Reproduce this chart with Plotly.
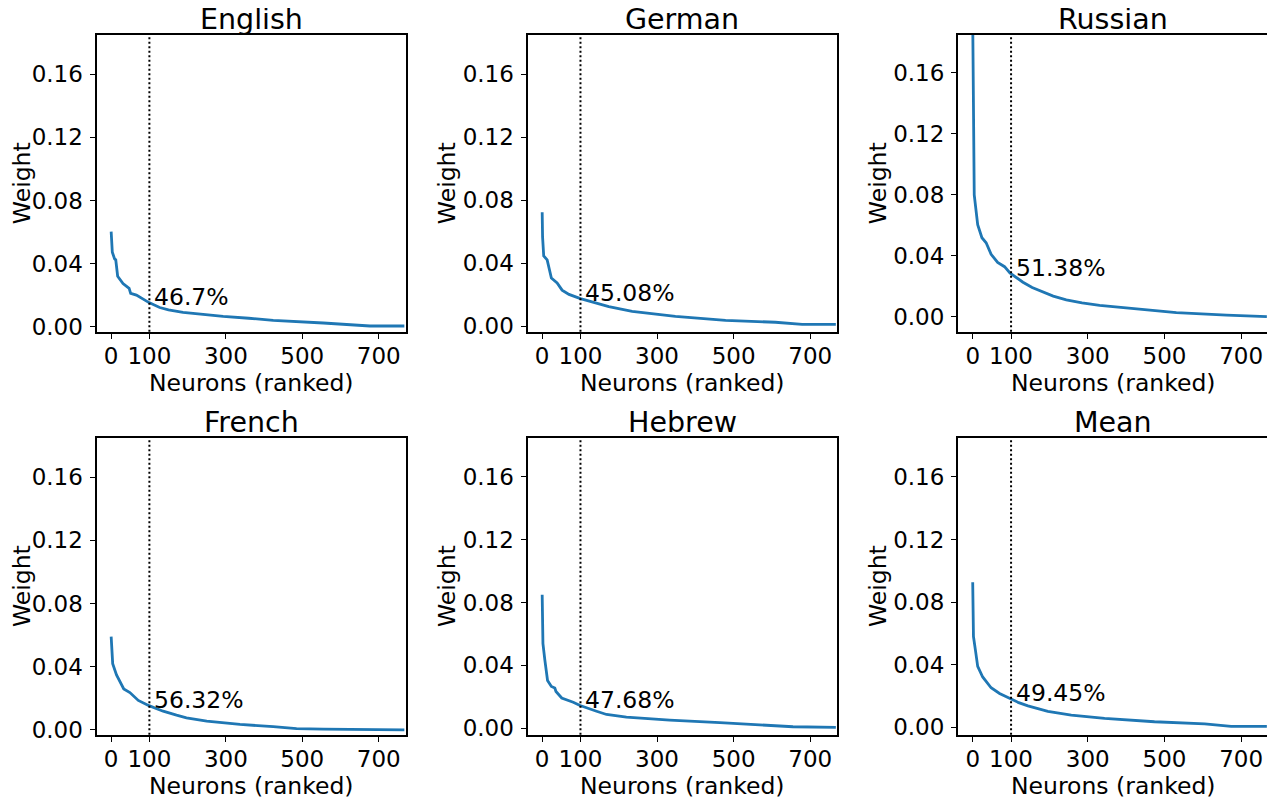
import numpy as np
import plotly.graph_objects as go

languages = ["English", "German", "Russian", "French", "Hebrew", "Mean"]
percent_labels = ["46.7%", "45.08%", "51.38%", "56.32%", "47.68%", "49.45%"]

english_x = [0, 1, 3, 9, 12, 17, 31, 47, 51, 66, 99, 127, 150, 188, 240, 293, 360, 424, 555, 677, 767]
english_w = [0.0604, 0.0567, 0.0473, 0.0431, 0.0425, 0.0321, 0.0275, 0.0244, 0.0213, 0.0202,
             0.0154, 0.0123, 0.0108, 0.0092, 0.0079, 0.0067, 0.0055, 0.0042, 0.0025, 0.0006, 0.0006]

german_x = [0, 1, 4, 13, 24, 39, 52, 70, 100, 135, 174, 235, 290, 348, 479, 609, 679, 767]
german_w = [0.0722, 0.0566, 0.0445, 0.0420, 0.0305, 0.0274, 0.0228, 0.0201, 0.0174, 0.0148,
            0.0124, 0.0093, 0.0076, 0.0061, 0.0036, 0.0024, 0.0010, 0.0010]

russian_x = [0, 1, 2, 3, 4, 13, 24, 35, 48, 65, 83, 97, 131, 155, 183, 210, 244, 285, 331, 418, 531, 662, 767]
russian_w = [0.195, 0.150, 0.120, 0.0973, 0.0800, 0.0605, 0.0519, 0.0486, 0.0410, 0.0357,
             0.0329, 0.0288, 0.0227, 0.0192, 0.0162, 0.0136, 0.0112, 0.0092, 0.0076, 0.0054,
             0.0028, 0.0011, 0.0002]

french_x = [0, 1, 4, 14, 23, 33, 49, 71, 99, 136, 171, 197, 250, 337, 424, 485, 555, 767]
french_w = [0.0591, 0.0546, 0.0420, 0.0348, 0.0306, 0.0260, 0.0237, 0.0187, 0.0154, 0.0119,
            0.0094, 0.0077, 0.0056, 0.0035, 0.0021, 0.0009, 0.0005, 0.0001]

hebrew_x = [0, 1, 2, 7, 14, 24, 33, 36, 51, 81, 99, 142, 168, 220, 275, 333, 464, 595, 655, 767]
hebrew_w = [0.0849, 0.0664, 0.0538, 0.0433, 0.0303, 0.0265, 0.0255, 0.0233, 0.0191, 0.0164,
            0.0143, 0.0107, 0.0086, 0.0069, 0.0059, 0.0050, 0.0034, 0.0019, 0.0008, 0.0004]

mean_x = [0, 1, 2, 7, 13, 26, 48, 70, 99, 120, 144, 170, 196, 257, 344, 474, 605, 674, 767]
mean_w = [0.0927, 0.0748, 0.0580, 0.0495, 0.0390, 0.0322, 0.0253, 0.0217, 0.0183, 0.0158,
          0.0137, 0.0119, 0.0103, 0.0078, 0.0057, 0.0036, 0.0022, 0.0006, 0.0006]

series_x = [english_x, german_x, russian_x, french_x, hebrew_x, mean_x]
series_w = [english_w, german_w, russian_w, french_w, hebrew_w, mean_w]

cutoff = 100
x_ticks = [0, 100, 300, 500, 700]
y_ticks = [0.00, 0.04, 0.08, 0.12, 0.16]
y_top = 0.185

# page has an 8px body margin; figure coordinates = page coordinates - 8
OFF = 8
W, H = 1275 - OFF, 808 - OFF
col_px = [(96.5, 405.5), (527.5, 837.0), (958.0, 1268.0)]
row_px = [(35.0, 335.0), (442.0, 742.0)]
xtitle_top_px = [371.0, 778.0]

FONT = "DejaVu Sans"
TICK_SIZE = 23
LABEL_SIZE = 23.5
TITLE_SIZE = 28.5

fig = go.Figure()
annotations = []
shapes = []

for i, lang in enumerate(languages):
    r, c = divmod(i, 3)
    n = i + 1
    xa = "x" if n == 1 else f"x{n}"
    ya = "y" if n == 1 else f"y{n}"
    xs, ws = series_x[i], series_w[i]
    fig.add_trace(go.Scatter(x=xs, y=ws, mode="lines", xaxis=xa, yaxis=ya,
                             line=dict(color="#1f77b4", width=2.8), showlegend=False,
                             hoverinfo="skip"))
    x0, x1 = col_px[c]
    y0, y1 = row_px[r]
    xdom = [(x0 - OFF) / W, (x1 - OFF) / W]
    ydom = [1 - (y1 - OFF) / H, 1 - (y0 - OFF) / H]
    ybottom = -0.05 * max(ws)
    xkey = "xaxis" if n == 1 else f"xaxis{n}"
    ykey = "yaxis" if n == 1 else f"yaxis{n}"
    fig.layout[xkey] = dict(
        domain=xdom, anchor=ya, range=[-38.35, 770], tickvals=x_ticks,
        ticktext=[str(v) for v in x_ticks], ticks="outside", ticklen=5, tickwidth=1,
        tickcolor="black", showline=True, mirror=True, linecolor="black", linewidth=2,
        showgrid=False, zeroline=False, ticklabelstandoff=-2,
        tickfont=dict(family=FONT, size=TICK_SIZE, color="black"),
    )
    fig.layout[ykey] = dict(
        domain=ydom, anchor=xa, range=[ybottom, y_top], tickvals=y_ticks,
        ticktext=[f"{v:.2f}" for v in y_ticks], ticks="outside", ticklen=5, tickwidth=1,
        tickcolor="black", showline=True, mirror=True, linecolor="black", linewidth=2,
        showgrid=False, zeroline=False, ticklabelstandoff=2,
        tickfont=dict(family=FONT, size=TICK_SIZE, color="black"),
        title=dict(text="Weight", font=dict(family=FONT, size=LABEL_SIZE, color="black"), standoff=0),
    )
    shapes.append(dict(type="line", xref=xa, yref=f"{ya} domain", x0=cutoff, x1=cutoff,
                       y0=0, y1=1, line=dict(color="black", width=2, dash="2px,2.5px")))
    y_at_cut = float(np.interp(cutoff, xs, ws))
    annotations.append(dict(x=cutoff + 10, y=y_at_cut, xref=xa, yref=ya, text=percent_labels[i],
                            showarrow=False, xanchor="left", yanchor="bottom", yshift=-10,
                            xshift=-1, font=dict(family=FONT, size=LABEL_SIZE, color="black")))
    annotations.append(dict(x=(xdom[0] + xdom[1]) / 2, y=ydom[1], xref="paper", yref="paper",
                            text=lang, showarrow=False, xanchor="center", yanchor="bottom",
                            yshift=-3, font=dict(family=FONT, size=TITLE_SIZE, color="black")))
    annotations.append(dict(x=(xdom[0] + xdom[1]) / 2, y=1 - (xtitle_top_px[r] - OFF) / H,
                            xref="paper", yref="paper", text="Neurons (ranked)", showarrow=False,
                            xanchor="center", yanchor="top",
                            font=dict(family=FONT, size=LABEL_SIZE, color="black")))

fig.update_layout(width=W, height=H, margin=dict(l=0, r=0, t=0, b=0),
                  paper_bgcolor="white", plot_bgcolor="white",
                  annotations=annotations, shapes=shapes)
fig.write_html("out.html")
